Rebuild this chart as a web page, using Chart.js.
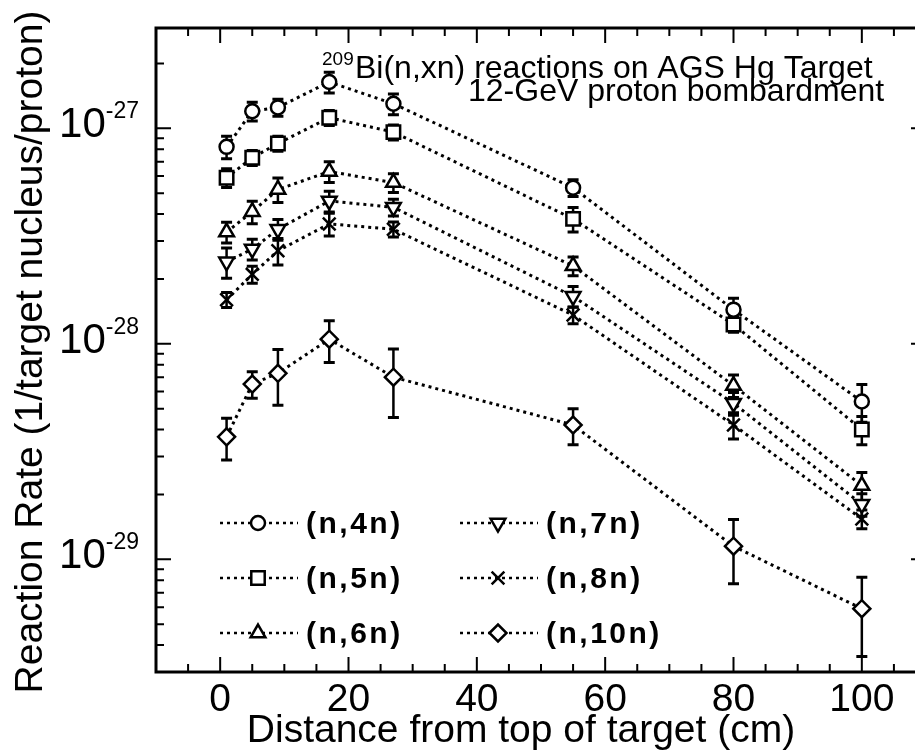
<!DOCTYPE html>
<html lang="en">
<head>
    <meta charset="UTF-8" />
    <title>209Bi(n,xn) reactions on AGS Hg Target</title>
    <style>
        body {
            margin: 0;
            padding: 0;
            background-color: #fff;
            overflow: hidden;
        }
        /* the right frame is cut off in the original, so the canvas is wider than its box */
        .chart-wrap {
            width: 915px;
            height: 755px;
            overflow: hidden;
        }
        #chart {
            display: block;
            width: 928px;
            height: 755px;
        }
    </style>
    <script src="https://cdn.jsdelivr.net/npm/chart.js"></script>
</head>
<body>
    <div class="chart-wrap"><canvas id="chart" width="928" height="755"></canvas></div>
    <script>
        // Distance from top of target (cm)
        const distances = [1, 5, 9, 17, 27, 55, 80, 100];

        // Reaction rates (1/target nucleus/proton) and errors in percent
        const rate4n = [8.2e-28, 1.2e-27, 1.25e-27, 1.64e-27, 1.3e-27, 5.3e-28, 1.44e-28, 5.4e-29];
        const err4n = [12, 10, 9, 11, 11, 9, 13, 20];
        const rate5n = [5.9e-28, 7.3e-28, 8.5e-28, 1.12e-27, 9.6e-28, 3.8e-28, 1.23e-28, 4.0e-29];
        const err5n = [10, 8, 8, 8, 8, 13, 8, 15];
        const rate6n = [3.3e-28, 4.1e-28, 5.2e-28, 6.3e-28, 5.6e-28, 2.3e-28, 6.4e-29, 2.2e-29];
        const err6n = [11, 12, 13, 11, 10, 10, 12, 15];
        const rate7n = [2.4e-28, 2.75e-28, 3.4e-28, 4.6e-28, 4.3e-28, 1.66e-28, 5.3e-29, 1.8e-29];
        const err7n = [16, 11, 11, 11, 9, 11, 12, 12];
        const rate8n = [1.6e-28, 2.1e-28, 2.7e-28, 3.6e-28, 3.4e-28, 1.36e-28, 4.2e-29, 1.54e-29];
        const err8n = [8, 9, 14, 12, 8, 9, 14, 10];
        const rate10n = [3.7e-29, 6.5e-29, 7.3e-29, 1.05e-28, 7.0e-29, 4.2e-29, 1.15e-29, 5.9e-30];
        const err10n = [22, 14, 29, 22, 35, 19, 33, 40];

        const seriesNames = ["(n,4n)", "(n,5n)", "(n,6n)", "(n,7n)", "(n,8n)", "(n,10n)"];
        const xTickValues = [0, 20, 40, 60, 80, 100];
        const yDecades = [-27, -28, -29];

        const xMin = -10, xMax = 110;
        const yMin = 3.07e-30, yMax = 2.92e-27;

        const FONT = '"Liberation Sans", Arial, Helvetica, sans-serif';

        // marker look per series
        const markers = [
            { pointStyle: "circle", radius: 7, rotation: 0 },
            { pointStyle: "rect", radius: 9.5, rotation: 0 },
            { pointStyle: "triangle", radius: 8.5, rotation: 0 },
            { pointStyle: "triangle", radius: 8.5, rotation: 180 },
            { pointStyle: "crossRot", radius: 9, rotation: 0 },
            { pointStyle: "rectRot", radius: 8.5, rotation: 0 },
        ];

        const allRates = [rate4n, rate5n, rate6n, rate7n, rate8n, rate10n];
        const allErrors = [err4n, err5n, err6n, err7n, err8n, err10n];

        const datasets = allRates.map((rates, i) => ({
            label: seriesNames[i],
            data: distances.map((d, j) => ({ x: d, y: rates[j] })),
            errors: allErrors[i],
            showLine: true,
            borderColor: "#000",
            borderWidth: 3,
            borderDash: [3, 4],
            tension: 0,
            pointStyle: markers[i].pointStyle,
            pointRadius: markers[i].radius,
            pointRotation: markers[i].rotation,
            pointBorderWidth: 2.5,
            pointBorderColor: "#000",
            pointBackgroundColor: "#fff",
        }));

        function drawMarker(ctx, m, x, y) {
            ctx.save();
            ctx.setLineDash([]);
            ctx.lineWidth = 2.5;
            ctx.strokeStyle = "#000";
            ctx.fillStyle = "#fff";
            Chart.helpers.drawPoint(ctx, {
                pointStyle: m.pointStyle,
                radius: m.radius,
                rotation: m.rotation,
                borderWidth: 2.5,
            }, x, y);
            ctx.restore();
        }

        // error bars go under the markers
        const errorBars = {
            id: "errorBars",
            beforeDatasetsDraw(chart) {
                const ctx = chart.ctx;
                const yScale = chart.scales.y;
                ctx.save();
                ctx.strokeStyle = "#000";
                ctx.setLineDash([]);
                chart.data.datasets.forEach((ds, i) => {
                    const meta = chart.getDatasetMeta(i);
                    meta.data.forEach((pt, j) => {
                        const v = ds.data[j].y;
                        const e = v * ds.errors[j] / 100;
                        const yTop = yScale.getPixelForValue(v + e);
                        const yBot = yScale.getPixelForValue(v - e);
                        ctx.lineWidth = 2.5;
                        ctx.beginPath();
                        ctx.moveTo(pt.x, yTop);
                        ctx.lineTo(pt.x, yBot);
                        ctx.stroke();
                        ctx.lineWidth = 3;
                        ctx.beginPath();
                        ctx.moveTo(pt.x - 5.5, yTop);
                        ctx.lineTo(pt.x + 5.5, yTop);
                        ctx.moveTo(pt.x - 5.5, yBot);
                        ctx.lineTo(pt.x + 5.5, yBot);
                        ctx.stroke();
                    });
                });
                ctx.restore();
            },
        };

        // frame, inward ticks, tick labels, titles, legend
        const decorations = {
            id: "decorations",
            afterDraw(chart) {
                const ctx = chart.ctx;
                const { left, right, top, bottom } = chart.chartArea;
                const xs = chart.scales.x;
                const ys = chart.scales.y;
                ctx.save();
                ctx.setLineDash([]);
                ctx.strokeStyle = "#000";
                ctx.fillStyle = "#000";

                // frame
                ctx.lineWidth = 3;
                ctx.strokeRect(left, top, right - left, bottom - top);

                // x ticks, every 5 cm
                ctx.lineWidth = 2;
                ctx.beginPath();
                for (let v = -5; v <= 105; v += 5) {
                    const px = xs.getPixelForValue(v);
                    const len = v % 20 === 0 ? 15 : 8;
                    ctx.moveTo(px, bottom);
                    ctx.lineTo(px, bottom - len);
                    ctx.moveTo(px, top);
                    ctx.lineTo(px, top + len);
                }
                // y ticks, log
                for (let e = -30; e <= -27; e++) {
                    for (let m = 1; m <= 9; m++) {
                        const v = m * Math.pow(10, e);
                        if (v < yMin || v > yMax) continue;
                        const py = ys.getPixelForValue(v);
                        const len = m === 1 ? 15 : 8;
                        ctx.moveTo(left, py);
                        ctx.lineTo(left + len, py);
                        ctx.moveTo(right, py);
                        ctx.lineTo(right - len, py);
                    }
                }
                ctx.stroke();

                // x tick labels
                ctx.textBaseline = "alphabetic";
                ctx.textAlign = "center";
                ctx.font = "39px " + FONT;
                xTickValues.forEach((v) => {
                    ctx.fillText(String(v), xs.getPixelForValue(v), 711);
                });

                // y tick labels: 10 with superscript exponent
                ctx.textAlign = "right";
                yDecades.forEach((e) => {
                    const py = ys.getPixelForValue(Math.pow(10, e));
                    const exp = "-" + String(-e);
                    ctx.font = "23px " + FONT;
                    const ew = ctx.measureText(exp).width;
                    ctx.fillText(exp, 139, py - 10);
                    ctx.font = "42px " + FONT;
                    ctx.fillText("10", 139 - ew, py + 9);
                });

                // axis titles
                ctx.font = "39px " + FONT;
                ctx.textAlign = "center";
                ctx.fillText("Distance from top of target (cm)", 521, 742);
                ctx.save();
                ctx.translate(42, 352);
                ctx.rotate(-Math.PI / 2);
                ctx.fillText("Reaction Rate (1/target nucleus/proton)", 0, 0);
                ctx.restore();

                // annotation in the upper right
                ctx.textAlign = "left";
                ctx.font = "19px " + FONT;
                ctx.fillText("209", 322, 65);
                ctx.font = "32px " + FONT;
                ctx.fillText("Bi(n,xn) reactions on AGS Hg Target", 355, 78);
                ctx.fillText("12-GeV proton bombardment", 468, 101);

                // legend, 2 columns x 3 rows
                const legendCols = [220, 460];
                const legendRows = [523, 578, 633];
                seriesNames.forEach((name, i) => {
                    const x0 = legendCols[Math.floor(i / 3)];
                    const y0 = legendRows[i % 3];
                    ctx.save();
                    ctx.lineWidth = 2.5;
                    ctx.setLineDash([3, 4]);
                    ctx.beginPath();
                    ctx.moveTo(x0, y0);
                    ctx.lineTo(x0 + 78, y0);
                    ctx.stroke();
                    ctx.restore();
                    drawMarker(ctx, markers[i], x0 + 38, y0);
                    ctx.font = "bold 30px " + FONT;
                    ctx.letterSpacing = "2.5px";
                    ctx.fillText(name, x0 + 86, y0 + 10);
                    ctx.letterSpacing = "0px";
                });

                ctx.restore();
            },
        };

        new Chart(document.getElementById("chart"), {
            type: "line",
            data: { datasets: datasets },
            options: {
                responsive: false,
                animation: false,
                layout: { autoPadding: false, padding: { left: 0, top: 28, right: 2, bottom: 0 } },
                plugins: {
                    legend: { display: false },
                    tooltip: { enabled: false },
                },
                scales: {
                    x: {
                        type: "linear",
                        min: xMin,
                        max: xMax,
                        grid: { display: false, drawTicks: false },
                        border: { display: false },
                        ticks: { display: false },
                        afterFit: (scale) => {
                            scale.height = 83;
                        },
                    },
                    y: {
                        type: "logarithmic",
                        min: yMin,
                        max: yMax,
                        grid: { display: false, drawTicks: false },
                        border: { display: false },
                        ticks: { display: false },
                        afterFit: (scale) => {
                            scale.width = 156;
                        },
                    },
                },
            },
            plugins: [errorBars, decorations],
        });
    </script>
</body>
</html>
